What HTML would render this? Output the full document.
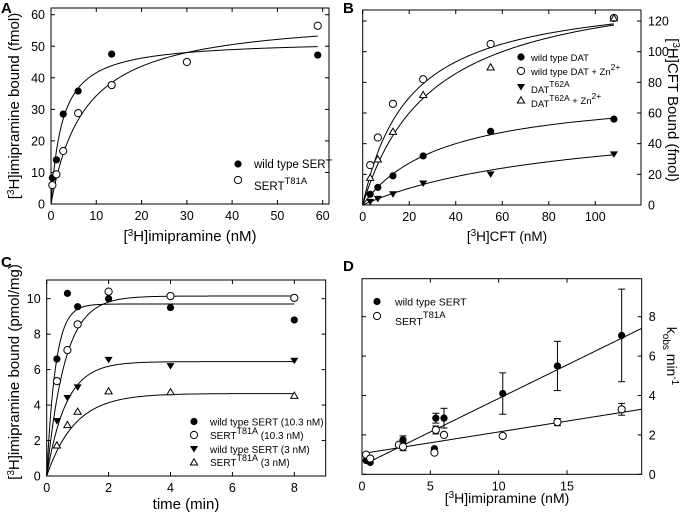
<!DOCTYPE html>
<html><head><meta charset="utf-8"><style>
body{margin:0;background:#fff}
svg{display:block;font-family:"Liberation Sans",sans-serif}
</style></head><body>
<svg id="fig" width="685" height="512" viewBox="0 0 685 512"></svg>
<script>
// ---------- Panel A data ----------
const aX_wt=[0.3,1.2,2.7,6,13.4,58.9];
const aY_wt=[8.3,14,28.5,35.8,47.5,47.2];
const aX_mut=[0.3,1.2,2.7,6,13.4,30,58.9];
const aY_mut=[6,9.4,16.8,28.8,37.7,45,56.5];
const aFit_wt=[52,2.5];   // Bmax, Kd
const aFit_mut=[60,7.5];
const aXTicks=[0,10,20,30,40,50,60];
const aYTicks=[0,10,20,30,40,50,60];
// ---------- Panel B data ----------
const bX=[3.2,6.5,13,26,55,108];
const bY_wt=[7,11.5,19,32,48,56];
const bY_wtZn=[26,44,66,82,105,122];
const bY_mut=[2,4,7,14,20,33];
const bY_mutZn=[18,30,48,72,90,122];
const bFit_wt=[75,35];
const bFit_wtZn=[140,20];
const bFit_mut=[60,90];
const bFit_mutZn=[150,30];
const bXTicks=[0,20,40,60,80,100];
const bYTicks=[0,20,40,60,80,100,120];
// ---------- Panel C data ----------
const cX=[0.33,0.67,1,2,4,8];
const cY_wt10=[6.6,10.3,9.55,10,9.5,8.8];
const cY_mut10=[5.35,7.1,8.55,10.4,10.15,10.05];
const cY_wt3=[3.1,4.4,5,6.55,6.2,6.5];
const cY_mut3=[1.75,2.9,3.65,4.8,4.75,4.55];
const cFit_wt10=[9.7,3.5];
const cFit_mut10=[10.15,1.7];
const cFit_wt3=[6.45,1.6];
const cFit_mut3=[4.65,1.1];
const cXTicks=[0,2,4,6,8];
const cYTicks=[0,2,4,6,8,10];
// ---------- Panel D data ----------
const dX_wt=[0.3,0.6,3,5.4,6,5.3,10.3,14.3,19];
const dY_wt=[0.7,0.6,1.75,2.85,2.85,1.3,4.1,5.5,7.05];
const dE_wt=[0,0,0.2,0.25,0.5,0,1.05,1.25,2.35];
const dX_mut=[0.3,0.6,2.7,3,5.4,5.3,6,10.3,14.3,19];
const dY_mut=[1.0,0.8,1.5,1.4,2.25,1.1,2.0,1.95,2.65,3.3];
const dE_mut=[0,0,0,0.2,0.2,0,0,0,0.18,0.3];
const dFit_wt=[0.45,0.34]; // intercept, slope
const dFit_mut=[1.05,0.11];
const dXTicks=[0,5,10,15];
const dYTicks=[0,2,4,6,8];

const NS="http://www.w3.org/2000/svg";
const svg=document.getElementById('fig');
function el(tag,attrs,parent,txt){const e=document.createElementNS(NS,tag);for(const k in attrs)e.setAttribute(k,attrs[k]);if(txt!==undefined)e.textContent=txt;(parent||svg).appendChild(e);return e;}
function scale(d0,d1,r0,r1){return v=>r0+(v-d0)*(r1-r0)/(d1-d0);}
function marker(g,type,x,y){
  const r=3.6;let m;
  if(type==='fc')m=el('circle',{cx:x,cy:y,r:r,fill:'#000'},g);
  else if(type==='oc')m=el('circle',{cx:x,cy:y,r:r,fill:'#fff',stroke:'#000','stroke-width':1},g);
  else if(type==='ft')m=el('path',{d:`M${x-4},${y-3}L${x+4},${y-3}L${x},${y+3.5}Z`,fill:'#000'},g);
  else m=el('path',{d:`M${x-3.6},${y+3}L${x+3.6},${y+3}L${x},${y-3.2}Z`,fill:'#fff',stroke:'#000','stroke-width':1},g);
  return m;
}
function frame(name,x0,y0,x1,y1,sx,sy,xt,yt,yRight){
  const g=el('g',{},svg);
  
  
  el('rect',{x:x0,y:y0,width:x1-x0,height:y1-y0,fill:'none',stroke:'#000','stroke-width':1},g);
  xt.forEach(v=>{const x=sx(v);
    el('line',{x1:x,y1:y1,x2:x,y2:y1-4,stroke:'#000'},g);
    el('line',{x1:x,y1:y0,x2:x,y2:y0+4,stroke:'#000'},g);
    const t=el('text',{x:x,y:y1+16,'text-anchor':'middle','font-size':12.5},g,String(v));
    
    
  });
  yt.forEach(v=>{const y=sy(v);
    el('line',{x1:x0,y1:y,x2:x0+4,y2:y,stroke:'#000'},g);
    el('line',{x1:x1,y1:y,x2:x1-4,y2:y,stroke:'#000'},g);
    const t=yRight?el('text',{x:x1+7,y:y+4.5,'text-anchor':'start','font-size':12.5},g,String(v))
                  :el('text',{x:x0-6,y:y+4.5,'text-anchor':'end','font-size':12.5},g,String(v));
    
    
  });
  return g;
}
function curve(g,fn,a,b,sx,sy){
  let d='';const n=200;
  for(let i=0;i<=n;i++){const v=a+(b-a)*i/n;d+=(i?'L':'M')+sx(v).toFixed(2)+','+sy(fn(v)).toFixed(2);}
  return el('path',{d:d,fill:'none',stroke:'#000','stroke-width':1},g);
}
function series(g,name,xs,ys,type,sx,sy,errs){
  const s=el('g',{},g);
  
  
  xs.forEach((v,i)=>{
    if(errs&&errs[i]>0){const x=sx(v),ya=sy(ys[i]+errs[i]),yb=sy(ys[i]-errs[i]);
      el('line',{x1:x,y1:ya,x2:x,y2:yb,stroke:'#000'},s);
      el('line',{x1:x-3.5,y1:ya,x2:x+3.5,y2:ya,stroke:'#000'},s);
      el('line',{x1:x-3.5,y1:yb,x2:x+3.5,y2:yb,stroke:'#000'},s);}
    const m=marker(s,type,sx(v),sy(ys[i]));
    
    
  });
}
function label(txt,x,y,size,name,extra){
  const t=el('text',Object.assign({x:x,y:y,'font-size':size},extra||{}),svg);
  t.innerHTML=txt;
  
  
  return t;
}
function legend(g,type,mx,my,html,tx,size){
  const m=marker(g,type,mx,my);
  
  
  const t=el('text',{x:tx,y:my+4,'font-size':size},g);
  t.innerHTML=html;
  
  
}
const hyp=p=>x=>p[0]*x/(p[1]+x);
const ass=p=>t=>p[0]*(1-Math.exp(-p[1]*t));
const lin=p=>x=>p[0]+p[1]*x;

// ===== Panel A =====
{const sx=scale(0,60,51,322.7),sy=scale(0,60,204,14.7);
 const g=frame('panel-a',51,8,329,204,sx,sy,aXTicks,aYTicks,false);
 curve(g,hyp(aFit_wt),0,58.9,sx,sy);curve(g,hyp(aFit_mut),0,58.9,sx,sy);
 series(g,'a-wild-type-sert',aX_wt,aY_wt,'fc',sx,sy);
 series(g,'a-sert-t81a',aX_mut,aY_mut,'oc',sx,sy);
 legend(g,'fc',238,164,'wild type SERT',254,11.5);
 legend(g,'oc',238,180,'<tspan dy="6">SERT</tspan><tspan dy="-6" font-size="9.5">T81A</tspan>',254,11.5);
 label('A',1,13,15,'panel-a-label',{'font-weight':'bold'});
 label('[<tspan dy="-5" font-size="10">3</tspan><tspan dy="5">H]imipramine (nM)</tspan>',190,241,15,'a-x-axis-title',{'text-anchor':'middle'});
 label('[<tspan dy="-5" font-size="10">3</tspan><tspan dy="5">H]imipramine bound (fmol)</tspan>',0,0,15,'a-y-axis-title',{'text-anchor':'middle',transform:'translate(19,106) rotate(-90)'});
}
// ===== Panel B =====
{const sx=scale(0,100,362.7,595.3),sy=scale(0,120,205,21);
 const g=frame('panel-b',362.7,10,641,205,sx,sy,bXTicks,bYTicks,true);
 [bFit_wt,bFit_wtZn,bFit_mut,bFit_mutZn].forEach(p=>curve(g,hyp(p),0,108,sx,sy));
 series(g,'b-wild-type-dat',bX,bY_wt,'fc',sx,sy);
 series(g,'b-wild-type-dat-zn',bX,bY_wtZn,'oc',sx,sy);
 series(g,'b-dat-t62a',bX,bY_mut,'ft',sx,sy);
 series(g,'b-dat-t62a-zn',bX,bY_mutZn,'ot',sx,sy);
 legend(g,'fc',521,57,'wild type DAT',531,9.5);
 legend(g,'oc',521,71,'wild type DAT  + Zn'+'<tspan dy="-5" font-size="8.5">2+</tspan>',531,9.5);
 legend(g,'ft',521,87,'<tspan dy="2">DAT</tspan><tspan dy="-6" font-size="8.5">T62A</tspan>',531,9.5);
 legend(g,'ot',521,100,'<tspan dy="3">DAT</tspan><tspan dy="-6" font-size="8.5">T62A</tspan><tspan dy="3">  +  Zn</tspan><tspan dy="-5" font-size="8.5">2+</tspan>',531,9.5);
 label('B',343,13,15,'panel-b-label',{'font-weight':'bold'});
 label('[<tspan dy="-5" font-size="10">3</tspan><tspan dy="5">H]CFT (nM)</tspan>',507,241,13.5,'b-x-axis-title',{'text-anchor':'middle'});
 label('[<tspan dy="-5" font-size="10">3</tspan><tspan dy="5">H]CFT Bound (fmol)</tspan>',0,0,15,'b-y-axis-title',{'text-anchor':'middle',transform:'translate(668,110) rotate(90)'});
}
// ===== Panel C =====
{const sx=scale(0,8,46.7,294.3),sy=scale(0,10,476,298.7);
 const g=frame('panel-c',46.7,280,325.7,476,sx,sy,cXTicks,cYTicks,false);
 [cFit_wt10,cFit_mut10,cFit_wt3,cFit_mut3].forEach(p=>curve(g,ass(p),0,8,sx,sy));
 series(g,'c-wild-type-10nm',cX,cY_wt10,'fc',sx,sy);
 series(g,'c-sert-t81a-10nm',cX,cY_mut10,'oc',sx,sy);
 series(g,'c-wild-type-3nm',cX,cY_wt3,'ft',sx,sy);
 series(g,'c-sert-t81a-3nm',cX,cY_mut3,'ot',sx,sy);
 legend(g,'fc',194,421.5,'wild type SERT  (10.3 nM)',210,10);
 legend(g,'oc',194,435,'SERT<tspan dy="-5" font-size="9">T81A</tspan><tspan dy="5"> (10.3 nM)</tspan>',210,10);
 legend(g,'ft',194,449,'wild type SERT (3 nM)',210,10);
 legend(g,'ot',194,462,'SERT<tspan dy="-5" font-size="9">T81A</tspan><tspan dy="5"> (3 nM)</tspan>',210,10);
 label('C',1,267,15,'panel-c-label',{'font-weight':'bold'});
 label('time (min)',186,509,15,'c-x-axis-title',{'text-anchor':'middle'});
 label('[<tspan dy="-5" font-size="10">3</tspan><tspan dy="5">H]imipramine bound (pmol/mg)</tspan>',0,0,15,'c-y-axis-title',{'text-anchor':'middle',transform:'translate(19,372) rotate(-90)'});
}
// ===== Panel D =====
{const sx=scale(0,15,362,567),sy=scale(0,8,474.3,316.7);
 const g=frame('panel-d',362,278.7,641.7,474.3,sx,sy,dXTicks,dYTicks,true);
 curve(g,lin(dFit_wt),0.3,20.45,sx,sy);curve(g,lin(dFit_mut),0.3,20.45,sx,sy);
 series(g,'d-wild-type-sert',dX_wt,dY_wt,'fc',sx,sy,dE_wt);
 series(g,'d-sert-t81a',dX_mut,dY_mut,'oc',sx,sy,dE_mut);
 legend(g,'fc',377,301.5,'wild type SERT',395,10.5);
 legend(g,'oc',377,316,'<tspan dy="5">SERT</tspan><tspan dy="-7" font-size="9.5">T81A</tspan>',395,10.5);
 label('D',343,271,15,'panel-d-label',{'font-weight':'bold'});
 label('[<tspan dy="-5" font-size="10">3</tspan><tspan dy="5">H]imipramine (nM)</tspan>',507,503,14,'d-x-axis-title',{'text-anchor':'middle'});
 label('k<tspan dy="4" font-size="10">obs</tspan><tspan dy="-4"> min</tspan><tspan dy="-5" font-size="10">-1</tspan>',0,0,14,'d-y-axis-title',{'text-anchor':'middle',transform:'translate(667,356) rotate(90)'});
}
</script>
</body></html>
